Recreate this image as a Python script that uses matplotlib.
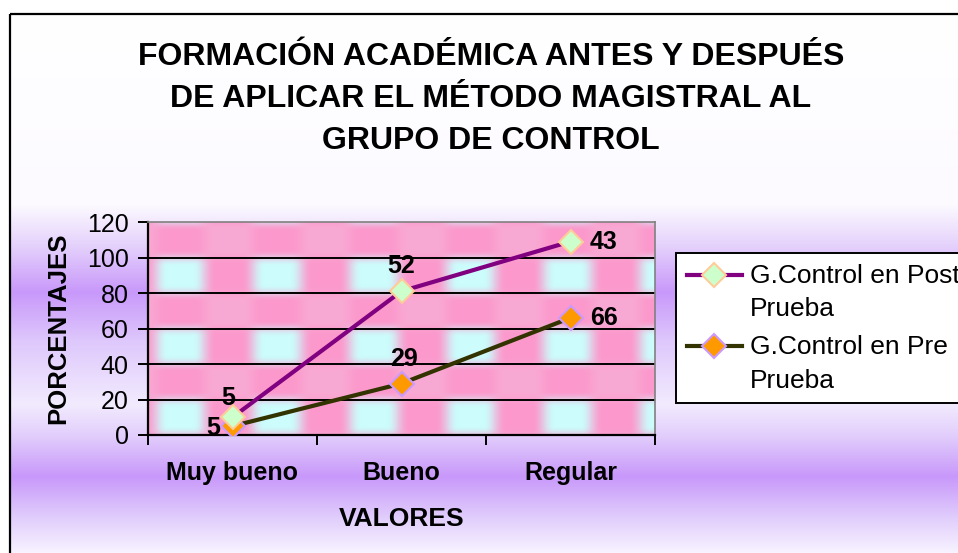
import numpy as np
import matplotlib
matplotlib.use("Agg")
import matplotlib.pyplot as plt
from matplotlib.patches import Rectangle

plt.rcParams['font.family'] = ['Liberation Sans', 'DejaVu Sans']

# Datos del grafico
categorias = ['Muy bueno', 'Bueno', 'Regular']
pre_prueba = [5, 29, 66]
post_prueba = [5, 52, 43]
titulo = ('FORMACIÓN ACADÉMICA ANTES Y DESPUÉS\n'
          'DE APLICAR EL MÉTODO MAGISTRAL AL\n'
          'GRUPO DE CONTROL')
nombre_post = 'G.Control en Post\nPrueba'
nombre_pre = 'G.Control en Pre\nPrueba'

# Lineas apiladas: la serie Post se dibuja sobre la serie Pre
acumulado_post = [a + b for a, b in zip(pre_prueba, post_prueba)]

W, H = 958, 553
fig = plt.figure(figsize=(W / 100, H / 100), dpi=100)

# Fondo del area del grafico: degradado lila en bandas horizontales
bg = fig.add_axes([0, 0, 1, 1], zorder=-2)
bg.set_xlim(0, W)
bg.set_ylim(H, 0)
bg.axis('off')
puntos = [(0, (255, 255, 255)), (195, (252, 250, 255)), (235, (230, 212, 252)),
          (285, (200, 152, 250)), (335, (222, 200, 252)), (400, (242, 235, 254)),
          (432, (226, 206, 252)), (474, (200, 152, 250)), (515, (224, 204, 252)),
          (553, (248, 244, 255))]
ys = np.arange(H)
py = [p[0] for p in puntos]
grad = np.stack([np.interp(ys, py, [p[1][c] for p in puntos]) for c in range(3)], axis=-1) / 255
bg.imshow(grad[:, None, :], extent=(10, W + 20, H, 14), aspect='auto', zorder=0)
bg.add_patch(Rectangle((10, 14), W + 40, H + 40, fill=False, edgecolor='black', lw=1.6, zorder=2))

# Area de trazado
ax = fig.add_axes([148 / W, 1 - 435 / H, 507 / W, 213 / H])
ax.set_xlim(-0.5, 2.5)
ax.set_ylim(0, 120)

# Textura rosa con manchas celestes en damero
u = np.linspace(0, 507, 507)
v = np.linspace(120, 0, 213)
U, V = np.meshgrid(u, v)


def suave(c, a=0.15, b=0.85):
    t = np.clip((c - a) / (b - a), 0, 1)
    return t * t * (3 - 2 * t)


cx = 0.5 + 0.5 * np.cos(2 * np.pi * (U - 32) / 97)
cy = 0.5 + 0.5 * np.cos(2 * np.pi * (V - 10) / 40)
w_celeste = suave(cx) * suave(cy)
w_claro = 0.3 * suave(1 - cx) * suave(1 - cy)
rosa = np.array([252, 152, 204]) / 255
celeste = np.array([204, 252, 252]) / 255
blanco = np.array([240, 210, 228]) / 255
textura = (rosa * (1 - w_celeste[..., None] - w_claro[..., None])
           + celeste * w_celeste[..., None] + blanco * w_claro[..., None])
ax.imshow(textura, extent=(-0.5, 2.5, 0, 120), aspect='auto', zorder=0,
          interpolation='bilinear')

ax.set_yticks(range(0, 121, 20))
for y in range(20, 120, 20):
    ax.axhline(y, color='black', lw=1.4, zorder=1)

x = np.arange(len(categorias))
ax.plot(x, pre_prueba, color='#333300', lw=3, marker='D', ms=12.5,
        mfc='#FF9900', mec='#CC99FF', mew=1.5, zorder=3, label=nombre_pre)
ax.plot(x, acumulado_post, color='#800080', lw=3, marker='D', ms=12.5,
        mfc='#CCFFCC', mec='#FFCC99', mew=1.5, zorder=4, label=nombre_post)

# Etiquetas de datos: desplazamiento (puntos) de cada etiqueta respecto a su marcador
desp_post = [(-3, 14), (0, 18), (24, 0)]
desp_pre = [(-14, -1), (2, 18), (24, 0)]
for serie, etiquetas, desplaz in [(acumulado_post, post_prueba, desp_post),
                                  (pre_prueba, pre_prueba, desp_pre)]:
    for i, (yv, et, d) in enumerate(zip(serie, etiquetas, desplaz)):
        ax.annotate(str(et), (i, yv), xytext=d, textcoords='offset points',
                    ha='center', va='center', fontsize=18, fontweight='bold', zorder=5)

# Ejes
ax.set_xticks(x)
ax.set_xticklabels(categorias, fontsize=18, fontweight='bold')
ax.set_xticks([-0.5, 0.5, 1.5, 2.5], minor=True)
ax.tick_params(axis='x', which='major', length=0, pad=19)
ax.tick_params(axis='x', which='minor', length=7, width=1.4, direction='out')
ax.tick_params(axis='y', length=7, width=1.4, labelsize=18, pad=7)
for lado in ['top', 'right']:
    ax.spines[lado].set_color('#808080')
    ax.spines[lado].set_linewidth(1.2)
for lado in ['left', 'bottom']:
    ax.spines[lado].set_color('black')
    ax.spines[lado].set_linewidth(1.6)
ax.set_xlabel('VALORES', fontsize=19, fontweight='bold', labelpad=15.5)
ax.set_ylabel('PORCENTAJES', fontsize=18.5, fontweight='bold', labelpad=12)

fig.text(491 / W, 1 - 42 / H, titulo, ha='center', va='top', fontsize=23,
         fontweight='bold', linespacing=1.52)

# Leyenda, en el orden Post y Pre
h, l = ax.get_legend_handles_labels()
leg = fig.legend(h[::-1], l[::-1], loc='upper left', bbox_to_anchor=(676 / W, 1 - 253 / H),
                 borderaxespad=0, fontsize=19, frameon=True, fancybox=False,
                 edgecolor='black', framealpha=1, handlelength=2.1, handletextpad=0.3,
                 handleheight=1.2, labelspacing=0.5, borderpad=0.4)
leg.get_frame().set_linewidth(1.4)
for t in leg.get_texts():
    t.set_linespacing(1.52)
# el simbolo de cada serie queda a la altura de la primera linea del texto
for columna in leg._legend_handle_box.get_children():
    for fila in columna.get_children():
        fila.align = 'top'

fig.savefig('out.png', dpi=100)
